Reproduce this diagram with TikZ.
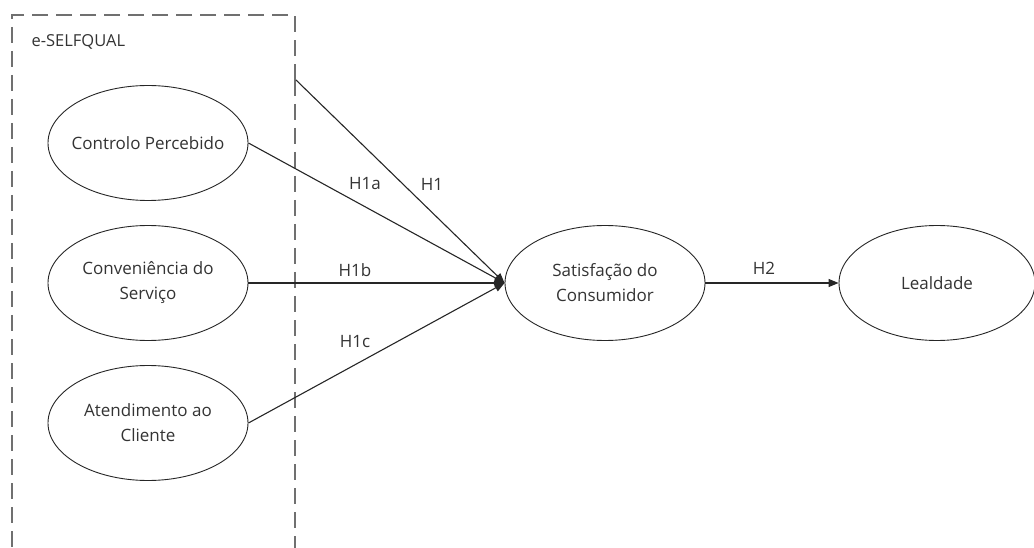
\documentclass[tikz,border=0pt]{standalone}
\usepackage{fontspec}
\setmainfont{Open Sans}
\usetikzlibrary{arrows.meta,shapes.geometric}
\definecolor{txt}{HTML}{333333}
\definecolor{boxline}{HTML}{707070}
\begin{document}
\begin{tikzpicture}[x=1pt,y=-1pt,
  construct/.style={draw=black!85, line width=0.9pt, ellipse, minimum width=200pt, minimum height=115pt, inner sep=0pt,
    label={[align=center, font=\fontsize{17}{25}\selectfont, text=txt]center:#1}},
  hpath/.style={draw=black!85, line width=1.1pt, -{Triangle[length=10pt,width=8pt]}},
  hyp/.style={font=\fontsize{17}{20}\selectfont, text=txt}]
\useasboundingbox (0,0) rectangle (1034,548);
% dashed frame around the e-SELFQUAL dimensions (runs past the lower edge)
\draw[boxline, line width=1.3pt, dash pattern=on 16pt off 8pt] (295,80) -- (295,15) -- (12,15) -- (12,570);
\draw[boxline, line width=1.3pt, dash pattern=on 16pt off 8pt] (295,80) -- (295,570);
\node[anchor=west, font=\fontsize{16.5}{20}\selectfont, text=txt] (lbl) at (28,42) {e-SELFQUAL};
\coordinate (frame) at (296,80);
% constructs
\node[construct={Controlo Percebido}] (cp) at (148,143) {};
\node[construct={Conveniência do\\Serviço}] (cs) at (148,283) {};
\node[construct={Atendimento ao\\Cliente}] (ac) at (148,423) {};
\node[construct={Satisfação do\\Consumidor}] (sc) at (605,283) {};
\node[construct={Lealdade}, minimum width=196pt] (le) at (937,283) {};
% hypothesised paths
\draw[hpath] (frame) -- (sc.west);
\draw[hpath] (cp.east) -- (sc.west);
\draw[hpath] (cs.east) -- (sc.west);
\draw[hpath] (ac.east) -- (sc.west);
\draw[hpath] (sc.east) -- (le.west);
% path labels
\node[hyp] (h1a) at (365,184) {H1a};
\node[hyp] (h1) at (432,184) {H1};
\node[hyp] (h1b) at (355,270) {H1b};
\node[hyp] (h1c) at (355,342) {H1c};
\node[hyp] (h2) at (764,268) {H2};
\end{tikzpicture}
\end{document}
